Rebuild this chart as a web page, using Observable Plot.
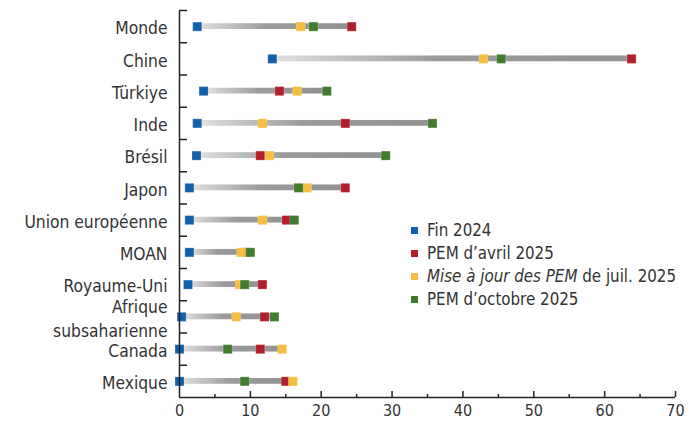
<!DOCTYPE html>
<html><head><meta charset="utf-8">
<script src="https://cdn.jsdelivr.net/npm/d3@7"></script>
<script src="https://cdn.jsdelivr.net/npm/@observablehq/plot@0.6"></script>
<style>
body{margin:0;background:#fff;}
#wrap{position:relative;width:696px;height:428px;font-family:"DejaVu Sans Condensed","Liberation Sans Narrow",sans-serif;}
.legend{position:absolute;left:411px;top:219px;font-size:16.8px;color:#333;line-height:23px;white-space:nowrap}
.legend .sw{display:inline-block;width:7px;height:7px;margin-right:9px;vertical-align:middle;position:relative;top:-1px}
</style></head><body><div id="wrap"></div>
<script>
const countries = ["Monde","Chine","Türkiye","Inde","Brésil","Japon","Union européenne","MOAN","Royaume-Uni","Afrique\nsubsaharienne","Canada","Mexique"];
const fin2024  = [2.5,13.1,3.4,2.5,2.4,1.4,1.4,1.4,1.2,0.3,0.0,0.0];
const pemAvril = [24.3,63.8,14.1,23.4,11.4,23.4,15.1,9.4,11.7,12.0,11.4,15.0];
const pemJuil  = [17.1,42.9,16.6,11.7,12.7,18.0,11.7,8.7,8.5,8.0,14.5,16.0];
const pemOct   = [18.9,45.4,20.8,35.7,29.1,16.8,16.2,10.0,9.2,13.4,6.8,9.2];
const seriesNames  = ["Fin 2024","PEM d’avril 2025","Mise à jour des PEM de juil. 2025","PEM d’octobre 2025"];
const seriesColors = ["#1460a8","#b01f2e","#f5bd42","#427a2f"];
const xTicks = [0,10,20,30,40,50,60,70];
const xMinor = [5,15,25,35,45,55,65];

const series = [fin2024, pemAvril, pemJuil, pemOct];
// drawing order: blue, red, yellow, green
const points = [];
series.forEach((vals, s) => vals.forEach((v, i) => points.push({i, v, s})));
const bars = countries.map((c, i) => ({i, x1: fin2024[i], x2: Math.max(fin2024[i], pemAvril[i], pemJuil[i], pemOct[i])}));

const W = 696, H = 428, mL = 179, mR = 21, mT = 10, mB = 31;
const frameH = H - mT - mB, frameW = W - mL - mR;
const axisColor = "#222";

const defs = () => {
  const d = d3.create("svg:defs");
  const g = d.append("linearGradient").attr("id", "barGrad").attr("x1", "0").attr("x2", "1").attr("y1", "0").attr("y2", "0");
  g.append("stop").attr("offset", "0%").attr("stop-color", "#e2e2e2");
  g.append("stop").attr("offset", "45%").attr("stop-color", "#9c9c9c");
  g.append("stop").attr("offset", "100%").attr("stop-color", "#929292");
  return d.node();
};

const chart = Plot.plot({
  width: W, height: H,
  marginLeft: mL, marginRight: mR, marginTop: mT, marginBottom: mB,
  style: {fontFamily: '"DejaVu Sans Condensed","Liberation Sans Narrow",sans-serif', color: "#333", background: "#fff"},
  x: {domain: [0, 70]},
  y: {domain: [11.5, -0.5]},
  marks: [
    defs,
    Plot.rectX(bars, {x1: "x1", x2: "x2", y1: d => d.i - 0.09, y2: d => d.i + 0.09, fill: "url(#barGrad)"}),
    Plot.dot(points, {x: "v", y: "i", fill: d => seriesColors[d.s], symbol: "square", r: 5.1, stroke: "#ffffff", strokeOpacity: 0.35, strokeWidth: 0.6}),
    Plot.ruleX([0], {stroke: axisColor, strokeWidth: 1.5}),
    Plot.ruleY([11.5], {stroke: axisColor, strokeWidth: 1.5}),
    Plot.ruleX(xTicks.slice(1), {stroke: axisColor, strokeWidth: 1.5, insetTop: frameH - 6}),
    Plot.ruleX(xMinor, {stroke: axisColor, strokeWidth: 1.5, insetTop: frameH - 3}),
    Plot.ruleY(d3.range(12).map(i => i - 0.5), {stroke: axisColor, strokeWidth: 1.5, insetRight: frameW - 8}),
    Plot.axisX({ticks: xTicks, tickSize: 0, tickPadding: 7, fontSize: 16, label: null, tickFormat: d => d}),
    Plot.axisY({ticks: d3.range(12), tickSize: 0, tickPadding: 12, fontSize: 17.3, label: null, lineHeight: 1.4, tickFormat: i => countries[i]})
  ]
});
const wrap = document.getElementById("wrap");
wrap.appendChild(chart);

const leg = document.createElement("div");
leg.className = "legend";
seriesNames.forEach((name, s) => {
  const row = document.createElement("div");
  const sw = document.createElement("span");
  sw.className = "sw"; sw.style.background = seriesColors[s];
  row.appendChild(sw);
  if (name.startsWith("Mise")) {
    const k = name.indexOf("PEM") + 3;
    const it = document.createElement("i"); it.textContent = name.slice(0, k);
    row.appendChild(it);
    row.appendChild(document.createTextNode(name.slice(k)));
  } else {
    row.appendChild(document.createTextNode(name));
  }
  leg.appendChild(row);
});
wrap.appendChild(leg);
</script>
</body></html>
